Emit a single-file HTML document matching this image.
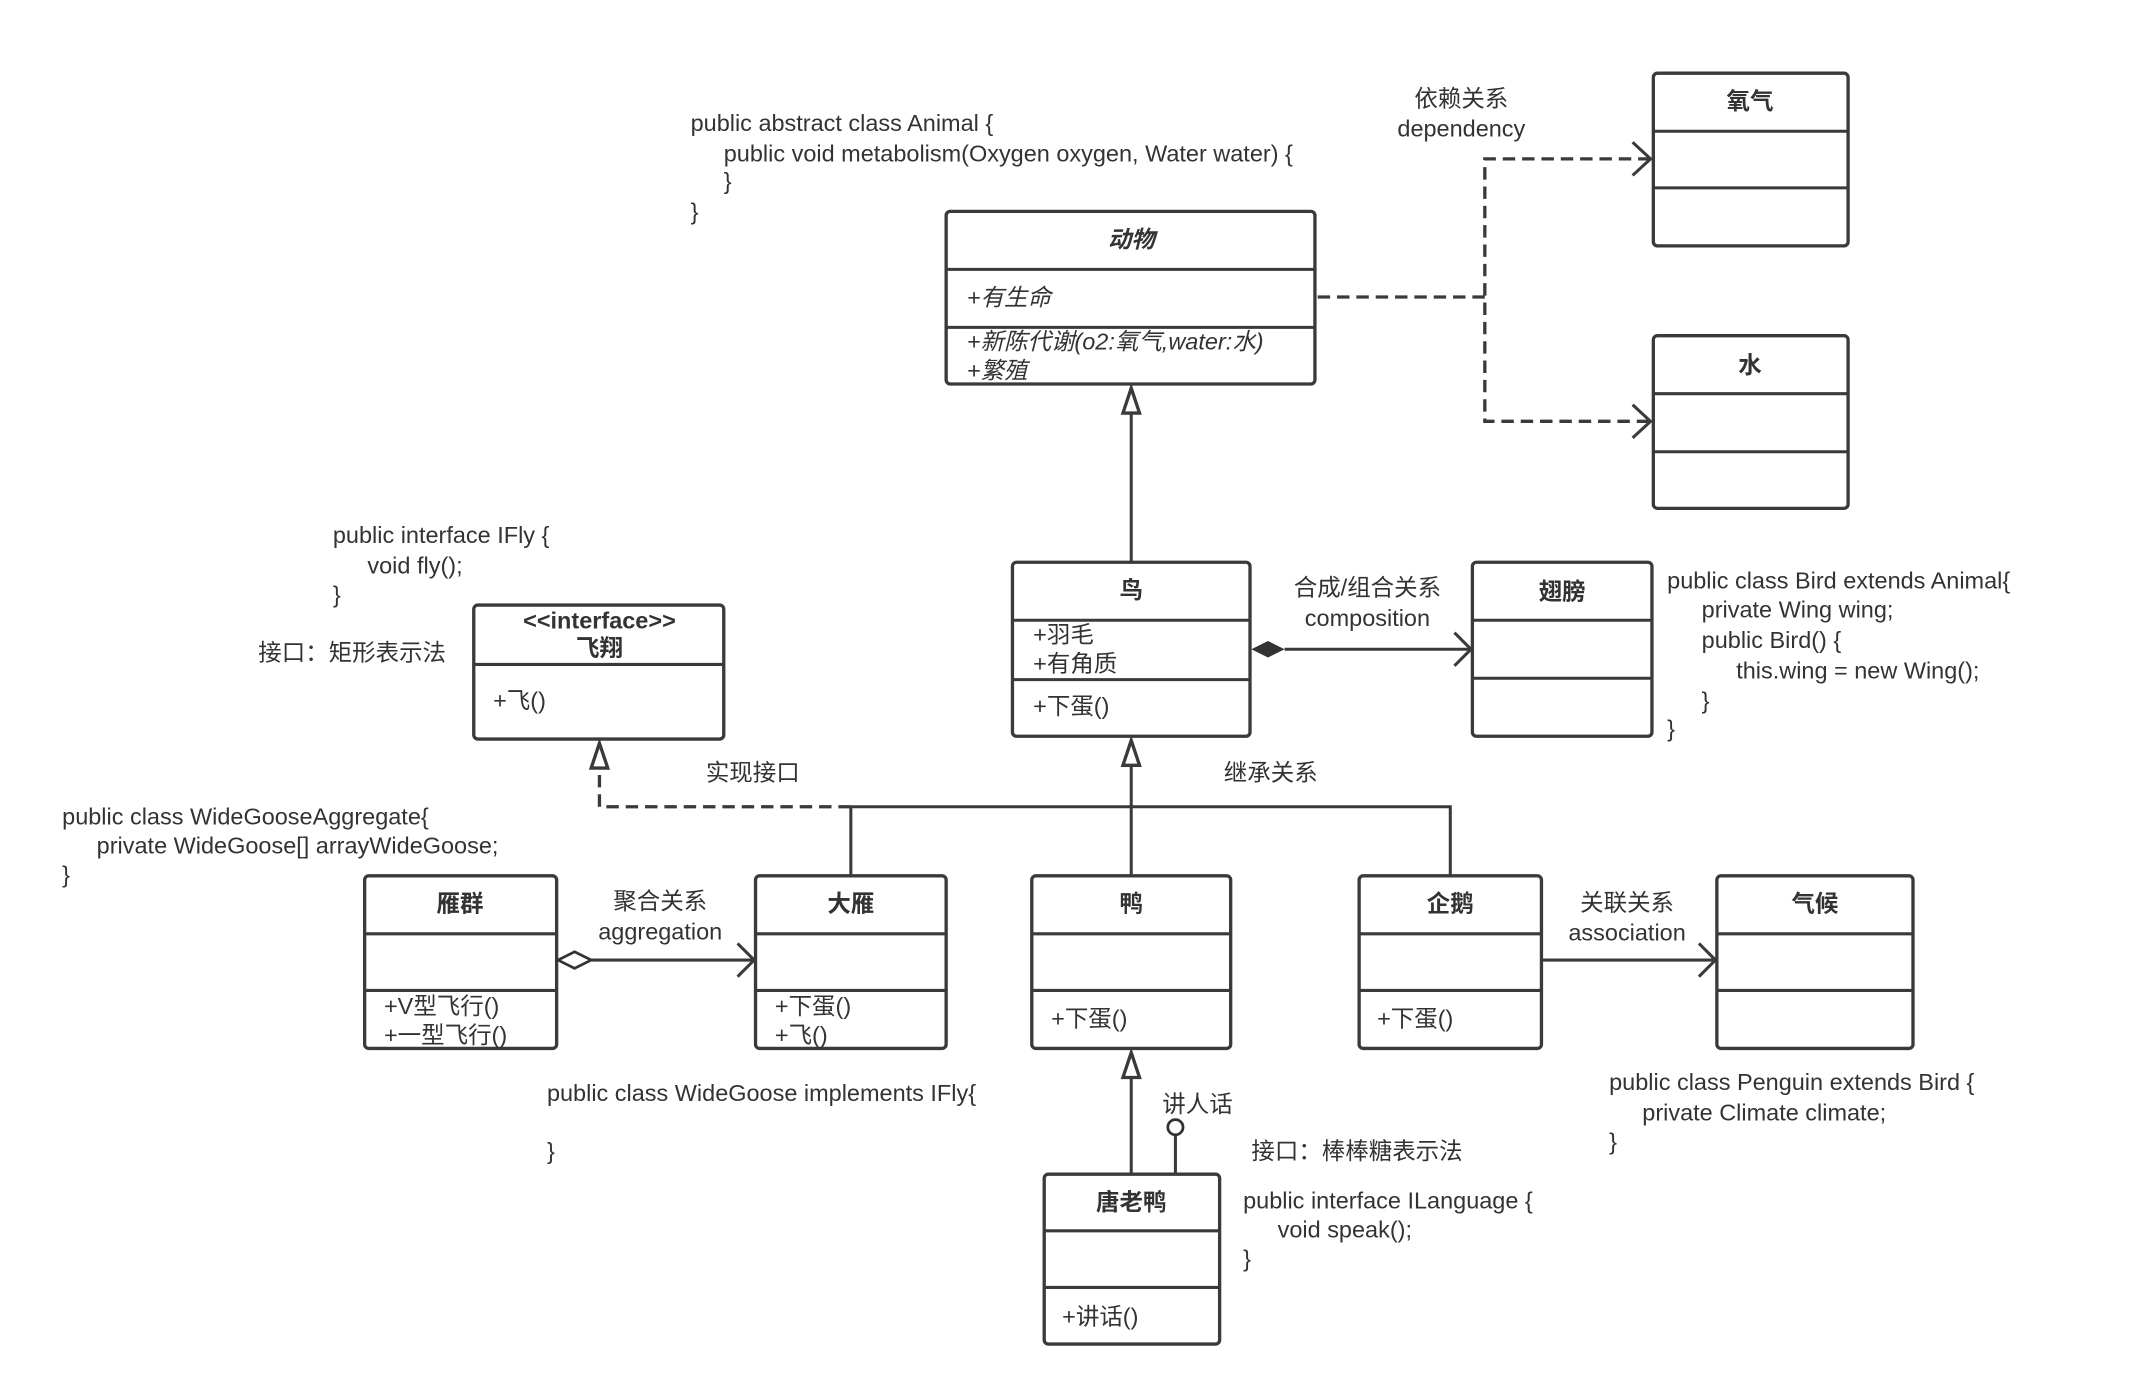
<!DOCTYPE html>
<html><head><meta charset="utf-8"><style>
html,body{margin:0;padding:0;background:#fff;}
svg{display:block;}
text{font-family:"Liberation Sans","Noto Sans CJK SC",sans-serif;font-size:17px;fill:#333;}
.b{font-weight:bold;}
.c{text-anchor:middle;}
.box{fill:#fff;stroke:#3a3a3a;stroke-width:2.4;}
.ln{stroke:#3a3a3a;stroke-width:2.2;fill:none;}
.ds{stroke:#3a3a3a;stroke-width:2.4;fill:none;stroke-dasharray:9,5;}
</style></head><body>
<svg width="2134" height="1380" viewBox="0 0 1545 999" preserveAspectRatio="none">
<!-- code texts -->
<text x="500" y="95">public abstract class Animal {</text>
<text x="524" y="117">public void metabolism(Oxygen oxygen, Water water) {</text>
<text x="524" y="137">}</text>
<text x="500" y="159">}</text>
<text x="1058" y="77" class="c">依赖关系</text>
<text x="1058" y="99" class="c">dependency</text>

<!-- 动物 -->
<rect class="box" x="685" y="153" width="267" height="125" rx="3"/>
<line class="ln" x1="685" y1="195" x2="952" y2="195"/>
<line class="ln" x1="685" y1="237" x2="952" y2="237"/>
<text x="819" y="179" class="c b" font-style="italic">动物</text>
<text x="700" y="221" font-style="italic">+有生命</text>
<text x="700" y="253" font-style="italic">+新陈代谢(o2:氧气,water:水)</text>
<text x="700" y="274" font-style="italic">+繁殖</text>

<!-- 氧气 水 -->
<rect class="box" x="1197" y="53" width="141" height="125" rx="3"/>
<line class="ln" x1="1197" y1="95" x2="1338" y2="95"/>
<line class="ln" x1="1197" y1="136" x2="1338" y2="136"/>
<text x="1267" y="79" class="c b">氧气</text>
<rect class="box" x="1197" y="243" width="141" height="125" rx="3"/>
<line class="ln" x1="1197" y1="285" x2="1338" y2="285"/>
<line class="ln" x1="1197" y1="327" x2="1338" y2="327"/>
<text x="1267" y="270" class="c b">水</text>

<!-- dependency -->
<line class="ds" x1="954" y1="215" x2="1075" y2="215" stroke-width="3.4"/>
<polyline class="ds" points="1195,115 1075,115 1075,305 1195,305"/>
<polyline class="ln" points="1182,103 1195,115 1182,127"/>
<polyline class="ln" points="1182,293 1195,305 1182,317"/>

<!-- 鸟 -->
<line class="ln" x1="819" y1="407" x2="819" y2="298"/>
<polygon class="box" points="819,281 813,299 825,299" stroke-width="2"/>
<rect class="box" x="733" y="407" width="172" height="126" rx="3"/>
<line class="ln" x1="733" y1="449" x2="905" y2="449"/>
<line class="ln" x1="733" y1="492" x2="905" y2="492"/>
<text x="819" y="433" class="c b">鸟</text>
<text x="748" y="465">+羽毛</text>
<text x="748" y="486">+有角质</text>
<text x="748" y="517">+下蛋()</text>

<!-- 翅膀 -->
<rect class="box" x="1066" y="407" width="130" height="126" rx="3"/>
<line class="ln" x1="1066" y1="449" x2="1196" y2="449"/>
<line class="ln" x1="1066" y1="491" x2="1196" y2="491"/>
<text x="1131" y="434" class="c b">翅膀</text>
<line class="ln" x1="930" y1="470" x2="1066" y2="470"/>
<polygon points="906,470 918,464 930,470 918,476" fill="#333"/>
<polyline class="ln" points="1053,458 1065,470 1053,482"/>
<text x="990" y="431" class="c">合成/组合关系</text>
<text x="990" y="453" class="c">composition</text>
<text x="1207" y="426">public class Bird extends Animal{</text>
<text x="1232" y="447">private Wing wing;</text>
<text x="1232" y="469">public Bird() {</text>
<text x="1257" y="491">this.wing = new Wing();</text>
<text x="1232" y="513">}</text>
<text x="1207" y="533">}</text>

<!-- interface -->
<text x="241" y="393">public interface IFly {</text>
<text x="266" y="415">void fly();</text>
<text x="241" y="436">}</text>
<text x="187" y="478">接口：矩形表示法</text>
<rect class="box" x="343" y="438" width="181" height="97" rx="3"/>
<line class="ln" x1="343" y1="481" x2="524" y2="481"/>
<text x="434" y="455" class="c b" font-size="16">&lt;&lt;interface&gt;&gt;</text>
<text x="434" y="475" class="c b">飞翔</text>
<text x="357" y="513">+飞()</text>

<!-- realization -->
<polyline class="ds" points="616,584 434,584 434,555"/>
<polygon class="box" points="434,538 428,556 440,556" stroke-width="2"/>
<text x="545" y="565" class="c">实现接口</text>
<line class="ln" x1="616" y1="584" x2="616" y2="634"/>

<!-- inheritance tree -->
<polyline class="ln" points="616,584 1050,584 1050,634"/>
<line class="ln" x1="819" y1="553" x2="819" y2="634" stroke-width="3"/>
<polygon class="box" points="819,536 813,554 825,554" stroke-width="2"/>
<text x="920" y="565" class="c">继承关系</text>

<!-- 雁群 -->
<text x="45" y="597">public class WideGooseAggregate{</text>
<text x="70" y="618">private WideGoose[] arrayWideGoose;</text>
<text x="45" y="639">}</text>
<rect class="box" x="264" y="634" width="139" height="125" rx="3"/>
<line class="ln" x1="264" y1="676" x2="403" y2="676"/>
<line class="ln" x1="264" y1="717" x2="403" y2="717"/>
<text x="333" y="660" class="c b">雁群</text>
<text x="278" y="734">+V型飞行()</text>
<text x="278" y="755">+一型飞行()</text>

<!-- aggregation -->
<line class="ln" x1="428" y1="695" x2="547" y2="695"/>
<polygon points="404,695 416,689 428,695 416,701" fill="#fff" stroke="#333" stroke-width="2"/>
<polyline class="ln" points="534,683 546,695 534,707"/>
<text x="478" y="658" class="c">聚合关系</text>
<text x="478" y="680" class="c">aggregation</text>

<!-- 大雁 -->
<rect class="box" x="547" y="634" width="138" height="125" rx="3"/>
<line class="ln" x1="547" y1="676" x2="685" y2="676"/>
<line class="ln" x1="547" y1="717" x2="685" y2="717"/>
<text x="616" y="660" class="c b">大雁</text>
<text x="561" y="734">+下蛋()</text>
<text x="561" y="755">+飞()</text>
<text x="396" y="797">public class WideGoose implements IFly{</text>
<text x="396" y="839">}</text>

<!-- 鸭 -->
<rect class="box" x="747" y="634" width="144" height="125" rx="3"/>
<line class="ln" x1="747" y1="676" x2="891" y2="676"/>
<line class="ln" x1="747" y1="717" x2="891" y2="717"/>
<text x="819" y="660" class="c b">鸭</text>
<text x="761" y="743">+下蛋()</text>

<!-- 企鹅 -->
<rect class="box" x="984" y="634" width="132" height="125" rx="3"/>
<line class="ln" x1="984" y1="676" x2="1116" y2="676"/>
<line class="ln" x1="984" y1="717" x2="1116" y2="717"/>
<text x="1050" y="660" class="c b">企鹅</text>
<text x="997" y="743">+下蛋()</text>

<!-- association -->
<line class="ln" x1="1116" y1="695" x2="1243" y2="695"/>
<polyline class="ln" points="1230,683 1242,695 1230,707"/>
<text x="1178" y="659" class="c">关联关系</text>
<text x="1178" y="681" class="c">association</text>

<!-- 气候 -->
<rect class="box" x="1243" y="634" width="142" height="125" rx="3"/>
<line class="ln" x1="1243" y1="676" x2="1385" y2="676"/>
<line class="ln" x1="1243" y1="717" x2="1385" y2="717"/>
<text x="1314" y="660" class="c b">气候</text>
<text x="1165" y="789">public class Penguin extends Bird {</text>
<text x="1189" y="811">private Climate climate;</text>
<text x="1165" y="832">}</text>

<!-- 唐老鸭 -->
<line class="ln" x1="819" y1="850" x2="819" y2="780"/>
<polygon class="box" points="819,762 813,780 825,780" stroke-width="2"/>
<line class="ln" x1="851" y1="850" x2="851" y2="822"/>
<circle cx="851" cy="816" r="5.5" fill="#fff" stroke="#333" stroke-width="2"/>
<text x="867" y="805" class="c">讲人话</text>
<text x="906" y="839">接口：棒棒糖表示法</text>
<text x="900" y="875">public interface ILanguage {</text>
<text x="925" y="896">void speak();</text>
<text x="900" y="917">}</text>
<rect class="box" x="756" y="850" width="127" height="123" rx="3"/>
<line class="ln" x1="756" y1="891" x2="883" y2="891"/>
<line class="ln" x1="756" y1="932" x2="883" y2="932"/>
<text x="819" y="876" class="c b">唐老鸭</text>
<text x="769" y="959">+讲话()</text>
</svg>
</body></html>
